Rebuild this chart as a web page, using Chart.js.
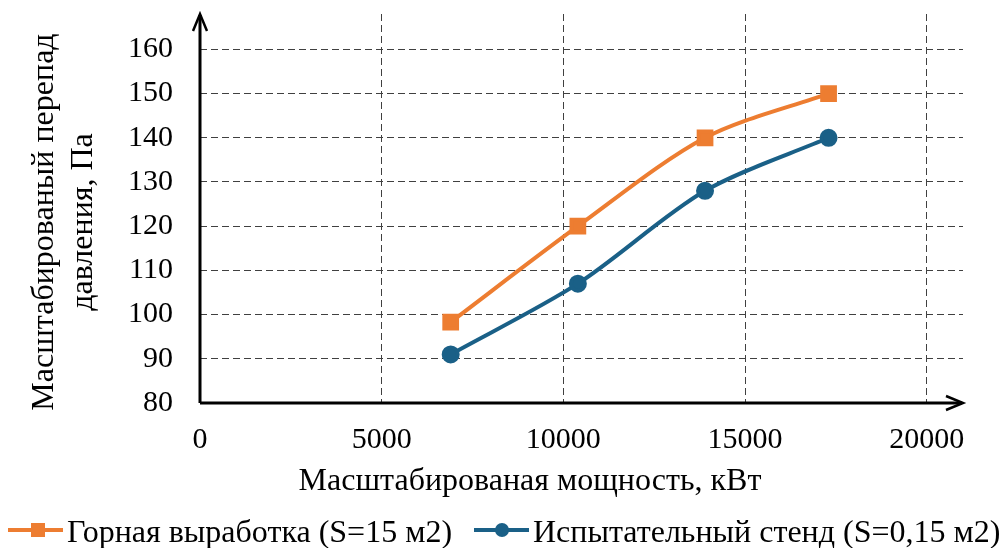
<!DOCTYPE html>
<html>
<head>
<meta charset="utf-8">
<script src="https://cdn.jsdelivr.net/npm/chart.js@4.4.1/dist/chart.umd.min.js"></script>
<style>
  html, body { margin: 0; padding: 0; background: #fff; }
  #wrap { width: 1001px; height: 548px; position: relative; }
</style>
</head>
<body>
<div id="wrap"><canvas id="chart"></canvas></div>
<script>
const powerKw = [6900, 10400, 13900, 17300];
const mineValues = [98.3, 120, 140, 150];
const standValues = [91, 107, 128, 140];
const seriesNames = ['Горная выработка (S=15 м2)', 'Испытательный стенд (S=0,15 м2)'];
const xTicks = [0, 5000, 10000, 15000, 20000];
const yTicks = [80, 90, 100, 110, 120, 130, 140, 150, 160];
const xTitle = 'Масштабированая мощность, кВт';
const yTitle = ['Масштабированый перепад', 'давления, Па'];

const ORANGE = '#ED7D31';
const BLUE = '#1A6087';
const FONT = '"Liberation Serif", "Times New Roman", serif';

// axes with arrowheads, axis titles and the legend
const axesPlugin = {
    id: 'axesArrows',
    afterDatasetsDraw(chart) {
        const ctx = chart.ctx;
        const a = chart.chartArea;
        const x0 = chart.scales.x.getPixelForValue(0);
        const y0 = chart.scales.y.getPixelForValue(80);
        ctx.save();
        ctx.strokeStyle = '#000';
        ctx.lineWidth = 3;
        ctx.beginPath();
        ctx.moveTo(x0, y0);
        ctx.lineTo(x0, a.top + 1);
        ctx.moveTo(x0, y0);
        ctx.lineTo(a.right - 1, y0);
        ctx.stroke();
        ctx.lineWidth = 2.5;
        ctx.beginPath();
        ctx.moveTo(x0 - 7, a.top + 17);
        ctx.lineTo(x0, a.top);
        ctx.lineTo(x0 + 7, a.top + 17);
        ctx.moveTo(a.right - 17, y0 - 7);
        ctx.lineTo(a.right, y0);
        ctx.lineTo(a.right - 17, y0 + 7);
        ctx.stroke();
        ctx.restore();
    },
    afterDraw(chart) {
        const ctx = chart.ctx;
        ctx.save();
        ctx.fillStyle = '#000';
        ctx.font = '32px ' + FONT;
        ctx.textBaseline = 'alphabetic';
        ctx.textAlign = 'center';
        ctx.fillText(xTitle, 530, 490);

        ctx.save();
        ctx.translate(0, 222);
        ctx.rotate(-Math.PI / 2);
        ctx.fillText(yTitle[0], 0, 53);
        ctx.fillText(yTitle[1], 0, 92);
        ctx.restore();

        const y = 530;
        const items = [
            { x: 8, color: ORANGE, style: 'rect', text: seriesNames[0] },
            { x: 474, color: BLUE, style: 'circle', text: seriesNames[1] }
        ];
        ctx.textAlign = 'left';
        items.forEach(it => {
            ctx.strokeStyle = it.color;
            ctx.fillStyle = it.color;
            ctx.lineWidth = 4;
            ctx.beginPath();
            ctx.moveTo(it.x, y);
            ctx.lineTo(it.x + 55, y);
            ctx.stroke();
            if (it.style === 'rect') {
                ctx.fillRect(it.x + 30 - 7, y - 7, 14, 14);
            } else {
                ctx.beginPath();
                ctx.arc(it.x + 28, y, 7, 0, Math.PI * 2);
                ctx.fill();
            }
            ctx.fillStyle = '#000';
            ctx.fillText(it.text, it.x + 59, 542);
        });
        ctx.restore();
    }
};

new Chart(document.getElementById('chart'), {
    type: 'line',
    data: {
        datasets: [{
            label: seriesNames[0],
            data: powerKw.map((x, i) => ({ x: x, y: mineValues[i] })),
            borderColor: ORANGE,
            backgroundColor: ORANGE,
            borderWidth: 4,
            pointStyle: 'rect',
            pointRadius: 9,
            pointHoverRadius: 9,
            tension: 0.3
        }, {
            label: seriesNames[1],
            data: powerKw.map((x, i) => ({ x: x, y: standValues[i] })),
            borderColor: BLUE,
            backgroundColor: BLUE,
            borderWidth: 4,
            pointStyle: 'circle',
            pointRadius: 7,
            pointHoverRadius: 7,
            tension: 0.3
        }]
    },
    options: {
        responsive: true,
        maintainAspectRatio: false,
        animation: false,
        layout: {
            padding: { left: 0, top: 14, right: 38, bottom: 55 }
        },
        plugins: {
            legend: { display: false },
            tooltip: { enabled: false }
        },
        scales: {
            x: {
                type: 'linear',
                min: 0,
                max: 21000,
                afterBuildTicks: axis => {
                    axis.ticks = xTicks.map(v => ({ value: v }));
                },
                afterFit: scale => {
                    scale.height = 90;
                    scale.paddingLeft = 0;
                    scale.paddingRight = 0;
                },
                border: { display: false, dash: [7, 4] },
                grid: {
                    color: ctx => ctx.tick && ctx.tick.value === 0 ? 'rgba(0,0,0,0)' : '#404040',
                    lineWidth: 1,
                    drawTicks: false
                },
                ticks: {
                    color: '#000',
                    padding: 19,
                    maxRotation: 0,
                    callback: v => String(v),
                    font: { family: FONT, size: 30 }
                }
            },
            y: {
                min: 80,
                max: 168,
                afterBuildTicks: axis => {
                    axis.ticks = yTicks.map(v => ({ value: v }));
                },
                afterFit: scale => {
                    scale.width = 200;
                    scale.paddingTop = 0;
                    scale.paddingBottom = 0;
                },
                border: { display: false, dash: [7, 4] },
                grid: {
                    color: ctx => ctx.tick && ctx.tick.value === 80 ? 'rgba(0,0,0,0)' : '#404040',
                    lineWidth: 1,
                    drawTicks: false
                },
                ticks: {
                    color: '#000',
                    padding: 27,
                    font: { family: FONT, size: 30 }
                }
            }
        }
    },
    plugins: [axesPlugin]
});
</script>
</body>
</html>
